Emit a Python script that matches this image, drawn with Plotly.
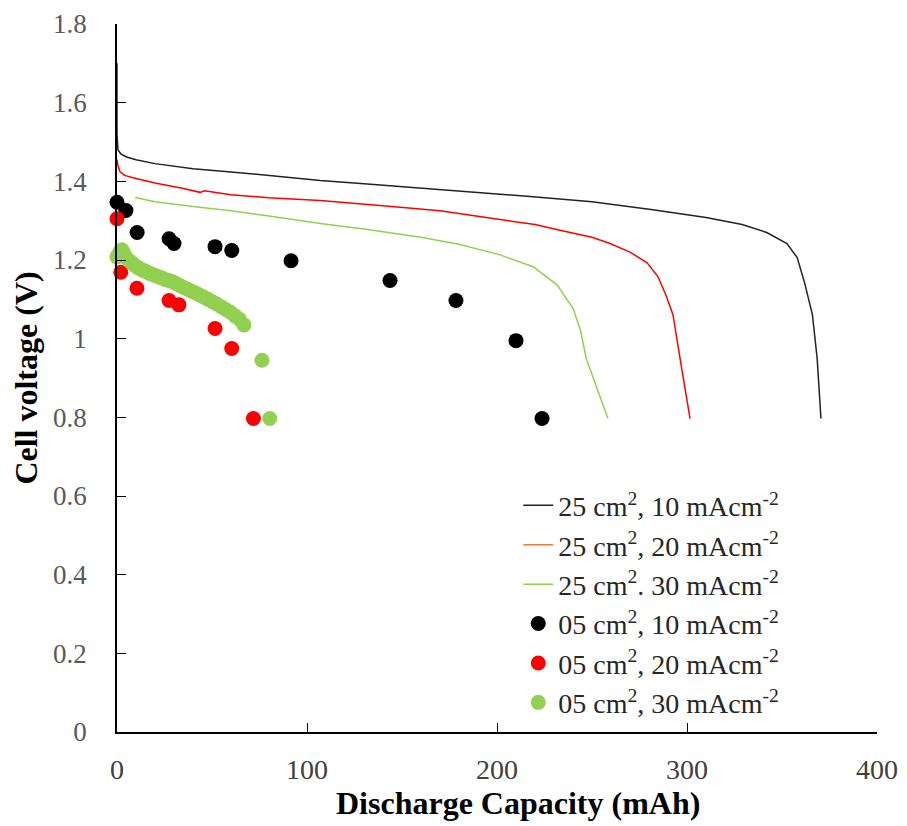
import plotly.graph_objects as go

# 25 cm2 cells (lines)
line10_x = [0, 0, 0.5, 2, 5, 10, 20, 40, 60, 80, 107, 130, 160, 201.6, 219, 250, 282, 310, 329, 342, 352.6, 358, 362, 366, 368.5, 370.5]
line10_y = [1.70, 1.52, 1.48, 1.47, 1.462, 1.455, 1.445, 1.432, 1.424, 1.414, 1.402, 1.394, 1.383, 1.367, 1.361, 1.348, 1.328, 1.308, 1.290, 1.270, 1.242, 1.206, 1.14, 1.061, 0.95, 0.797]

line20_x = [0, 0.5, 1.5, 4, 8.4, 20, 35, 43.7, 46, 60, 80, 107, 140, 170, 201.6, 220, 236.7, 250, 259.5, 270, 279, 284.7, 289, 292.6, 297, 301.6]
line20_y = [1.455, 1.44, 1.425, 1.415, 1.409, 1.396, 1.382, 1.372, 1.376, 1.366, 1.358, 1.351, 1.338, 1.325, 1.303, 1.290, 1.272, 1.258, 1.242, 1.220, 1.193, 1.158, 1.11, 1.061, 0.93, 0.797]

line30_x = [9.5, 20, 40, 60, 80, 107, 130, 160, 180, 201.6, 219, 231.6, 240, 244, 247, 252, 258.4]
line30_y = [1.359, 1.348, 1.336, 1.325, 1.312, 1.293, 1.279, 1.258, 1.240, 1.213, 1.183, 1.137, 1.077, 1.02, 0.949, 0.88, 0.797]

# 05 cm2 cells (dots)
dot10_x = [0, 4.7, 10.6, 27.4, 30, 51.6, 60.4, 91.6, 143.7, 178.4, 210, 223.7]
dot10_y = [1.347, 1.326, 1.27, 1.254, 1.242, 1.234, 1.224, 1.198, 1.148, 1.097, 0.995, 0.797]

dot20_x = [0, 2, 10.5, 27.4, 32.6, 51.6, 60.4, 71.8]
dot20_y = [1.305, 1.169, 1.128, 1.097, 1.086, 1.026, 0.975, 0.797]

dot30_x = [0, 0.8, 1.6, 2.5, 3.2, 4.1, 5.0, 6.2, 7.4, 8.6, 10.0, 11.3, 12.7, 14.1, 15.6, 17.2, 18.8, 20.4, 22.1, 23.8,
           25.6, 27.4, 29.2, 31.1, 33.0, 35.0, 37.0, 39.1, 41.2, 43.4, 45.6, 47.9, 50.2, 52.5, 54.9, 57.3, 59.7, 62.1,
           64.5, 66.8, 76.3, 80.4]
dot30_y = [1.208, 1.214, 1.222, 1.226, 1.221, 1.212, 1.205, 1.199, 1.194, 1.189, 1.184, 1.180, 1.176, 1.173, 1.170,
           1.166, 1.163, 1.160, 1.157, 1.154, 1.150, 1.148, 1.145, 1.140, 1.135, 1.130, 1.126, 1.121, 1.117, 1.111,
           1.106, 1.100, 1.094, 1.088, 1.081, 1.074, 1.067, 1.058, 1.049, 1.035, 0.945, 0.797]

x_ticks = [0, 100, 200, 300, 400]
y_ticks = [0, 0.2, 0.4, 0.6, 0.8, 1, 1.2, 1.4, 1.6, 1.8]
y_ticktext = ["0", "0.2", "0.4", "0.6", "0.8", "1", "1.2", "1.4", "1.6", "1.8"]

names = [
    "25 cm<sup>2</sup>, 10 mAcm<sup>-2</sup>",
    "25 cm<sup>2</sup>, 20 mAcm<sup>-2</sup>",
    "25 cm<sup>2</sup>. 30 mAcm<sup>-2</sup>",
    "05 cm<sup>2</sup>, 10 mAcm<sup>-2</sup>",
    "05 cm<sup>2</sup>, 20 mAcm<sup>-2</sup>",
    "05 cm<sup>2</sup>, 30 mAcm<sup>-2</sup>",
]

BLACK = "#222222"
RED = "#FF0000"
ORANGE = "#ED7D31"
GREEN = "#92D050"
SERIF = "Liberation Serif"

fig = go.Figure()
fig.add_trace(go.Scatter(x=line10_x, y=line10_y, mode="lines", name=names[0],
                         line=dict(color=BLACK, width=1.5)))
fig.add_trace(go.Scatter(x=line20_x, y=line20_y, mode="lines", name=names[1], showlegend=False,
                         line=dict(color=RED, width=1.5)))
fig.add_trace(go.Scatter(x=[None], y=[None], mode="lines", name=names[1],
                         line=dict(color=ORANGE, width=1.5)))
fig.add_trace(go.Scatter(x=line30_x, y=line30_y, mode="lines", name=names[2],
                         line=dict(color=GREEN, width=1.5)))
fig.add_trace(go.Scatter(x=dot10_x, y=dot10_y, mode="markers", name=names[3],
                         marker=dict(color="#000000", size=15), cliponaxis=False))
fig.add_trace(go.Scatter(x=dot20_x, y=dot20_y, mode="markers", name=names[4],
                         marker=dict(color=RED, size=15), cliponaxis=False))
fig.add_trace(go.Scatter(x=dot30_x, y=dot30_y, mode="markers", name=names[5],
                         marker=dict(color=GREEN, size=15), cliponaxis=False))

fig.update_layout(
    width=907, height=826,
    margin=dict(l=109, r=38, t=16, b=102, autoexpand=False),
    plot_bgcolor="white", paper_bgcolor="white",
    font=dict(family=SERIF, size=28, color="#404040"),
    showlegend=True,
    legend=dict(x=0.528, y=0.355, xanchor="left", yanchor="top",
                bgcolor="rgba(0,0,0,0)", font=dict(family=SERIF, size=28, color="#262626"),
                itemwidth=30, tracegroupgap=0),
    xaxis=dict(range=[0, 400], tickvals=x_ticks, ticks="inside", ticklen=9,
               tickcolor="#000000", showline=True, linecolor="#000000", linewidth=1.5,
               showgrid=False, zeroline=False, automargin=False, ticklabeloverflow="allow",
               tickfont=dict(family=SERIF, size=28, color="#404040"),
               ticklabelstandoff=12),
    yaxis=dict(range=[0, 1.8], tickvals=y_ticks, ticktext=y_ticktext,
               ticks="inside", ticklen=9, tickcolor="#000000", showline=True, linecolor="#000000",
               linewidth=1.5, showgrid=False, zeroline=False, automargin=False, ticklabeloverflow="allow",
               tickfont=dict(family=SERIF, size=27, color="#595959"),
               ticklabelstandoff=23,
               title=dict(text="<b>Cell voltage (V)</b>",
                          font=dict(family=SERIF, size=32, color="#000000"), standoff=10)),
)

# x-axis title placed slightly right of the axis centre, as in the original
fig.add_annotation(text="<b>Discharge Capacity (mAh)</b>", xref="paper", yref="paper",
                   x=0.528, y=-0.10, xanchor="center", yanchor="middle", showarrow=False,
                   font=dict(family=SERIF, size=32, color="#000000"))

fig.write_html("out.html")
